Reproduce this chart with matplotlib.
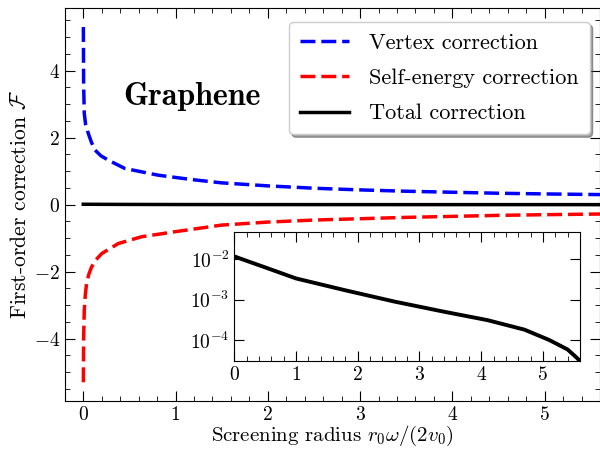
import numpy as np
import matplotlib
matplotlib.use("Agg")
import matplotlib.pyplot as plt
from matplotlib.ticker import MultipleLocator, LogLocator, NullLocator

plt.rcParams["font.family"] = "serif"
plt.rcParams["font.serif"] = ["cmr10"]
plt.rcParams["mathtext.fontset"] = "cm"
plt.rcParams["axes.formatter.use_mathtext"] = True

# vertex correction vs screening radius
r_vertex = [0.001, 0.004, 0.011, 0.025, 0.054, 0.09, 0.127, 0.19, 0.27, 0.45,
            0.81, 1.17, 1.5, 2.0, 2.5, 3.0, 3.5, 4.0, 4.5, 5.0, 5.6]
vertex = [5.3, 3.6, 2.72, 2.4, 2.13, 1.85, 1.63, 1.46, 1.33, 1.08,
          0.88, 0.75, 0.65, 0.56, 0.49, 0.44, 0.40, 0.37, 0.34, 0.32, 0.30]

# self-energy correction vs screening radius
r_self = [0.001, 0.004, 0.011, 0.022, 0.036, 0.06, 0.09, 0.14, 0.2, 0.38,
          0.63, 0.99, 1.5, 2.0, 2.5, 3.0, 3.5, 4.0, 4.5, 5.0, 5.6]
self_energy = [-5.3, -4.0, -3.15, -2.7, -2.35, -2.08, -1.86, -1.64, -1.46,
               -1.16, -0.96, -0.81, -0.61, -0.52, -0.46, -0.42, -0.38, -0.35,
               -0.32, -0.30, -0.28]

# total correction (shown on a log scale in the inset)
r_tot = [0.0, 0.25, 0.5, 1.0, 1.8, 2.6, 3.4, 4.1, 4.7, 5.1, 5.4, 5.55, 5.6]
total = [1.18e-2, 8.6e-3, 6.3e-3, 3.35e-3, 1.7e-3, 8.9e-4, 5.0e-4, 3.1e-4,
         1.8e-4, 1.0e-4, 5.8e-5, 3.6e-5, 3.0e-5]

fig = plt.figure(figsize=(6.0, 4.49), dpi=100)
ax = fig.add_axes([0.108, 0.1076, 0.892, 0.874])

dash = (4.3, 1.7)
ax.plot(r_vertex, vertex, color="blue", lw=2.5, ls=(0, dash), label="Vertex correction")
ax.plot(r_self, self_energy, color="red", lw=2.5, ls=(0, dash), label="Self-energy correction")
ax.plot(r_tot, total, color="black", lw=2.5, label="Total correction")

ax.set_xlim(-0.2, 5.6)
ax.set_ylim(-5.85, 5.86)
ax.xaxis.set_major_locator(MultipleLocator(1))
ax.xaxis.set_minor_locator(MultipleLocator(0.2))
ax.yaxis.set_major_locator(MultipleLocator(2))
ax.yaxis.set_minor_locator(MultipleLocator(0.5))
ax.tick_params(which="both", direction="in", top=True, right=True, labelsize=14)
ax.tick_params(which="major", length=7)
ax.tick_params(which="minor", length=3.5)
ax.set_xlabel(r"Screening radius $r_0\omega/(2v_0)$", fontsize=15, labelpad=0)
ax.set_ylabel(r"First-order correction $\mathcal{F}$", fontsize=15.5, labelpad=3)

ax.text(1.18, 2.97, "Graphene", fontsize=23, fontfamily="cmb10",
        ha="center", va="baseline")

leg = ax.legend(loc="upper right", bbox_to_anchor=(0.983, 0.951),
                bbox_transform=fig.transFigure, borderaxespad=0, fontsize=16,
                shadow=True, fancybox=True, framealpha=1, handlelength=2.2,
                handletextpad=0.9, labelspacing=0.71, borderpad=0.5)
leg.get_frame().set_edgecolor("0.8")

# inset: total correction on a log scale
ins = fig.add_axes([0.3905, 0.196, 0.576, 0.2866])
ins.semilogy(r_tot, total, color="black", lw=2.8)
ins.set_xlim(0, 5.6)
ins.set_ylim(3.0e-5, 4.67e-2)
ins.xaxis.set_major_locator(MultipleLocator(1))
ins.xaxis.set_minor_locator(MultipleLocator(0.2))
ins.yaxis.set_major_locator(LogLocator(base=10, numticks=10))
ins.yaxis.set_minor_locator(NullLocator())
ins.tick_params(which="both", direction="in", top=True, right=True, labelsize=14)
ins.tick_params(which="major", length=7)
ins.tick_params(which="minor", length=3.5)

fig.savefig("out.png", dpi=100)
